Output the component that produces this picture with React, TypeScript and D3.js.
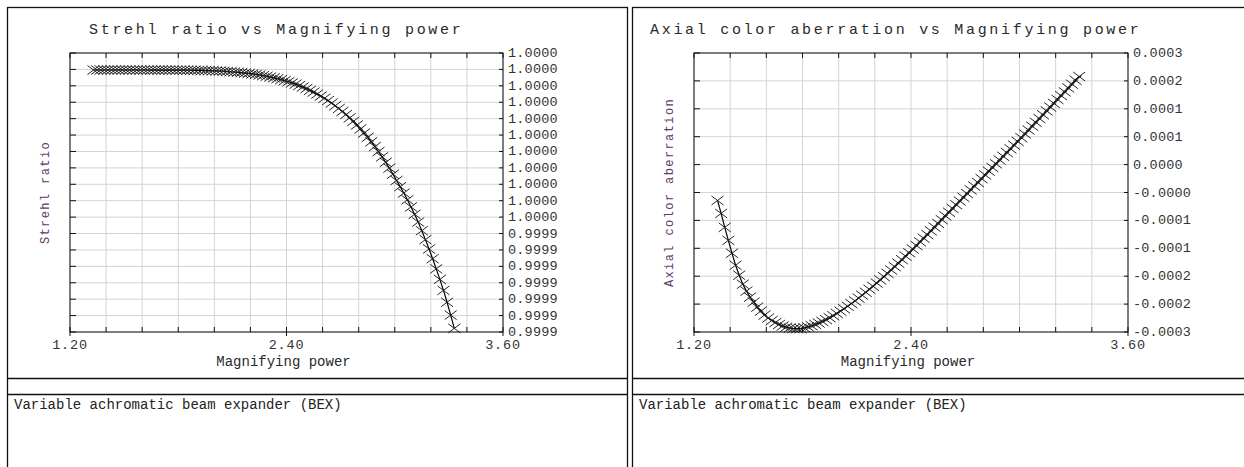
import React from "react";
import * as d3 from "d3";

// magnifying power samples (shared by both curves)
const magnification = [
  1.33, 1.35, 1.37, 1.39, 1.41, 1.43, 1.45, 1.47, 1.49, 1.51,
  1.53, 1.55, 1.57, 1.59, 1.61, 1.63, 1.65, 1.67, 1.69, 1.71,
  1.73, 1.75, 1.77, 1.79, 1.81, 1.83, 1.85, 1.87, 1.89, 1.91,
  1.93, 1.95, 1.97, 1.99, 2.01, 2.03, 2.05, 2.07, 2.09, 2.11,
  2.13, 2.15, 2.17, 2.19, 2.21, 2.23, 2.25, 2.27, 2.29, 2.31,
  2.33, 2.35, 2.37, 2.39, 2.41, 2.43, 2.45, 2.47, 2.49, 2.51,
  2.53, 2.55, 2.57, 2.59, 2.61, 2.63, 2.65, 2.67, 2.69, 2.71,
  2.73, 2.75, 2.77, 2.79, 2.81, 2.83, 2.85, 2.87, 2.89, 2.91,
  2.93, 2.95, 2.97, 2.99, 3.01, 3.03, 3.05, 3.07, 3.09, 3.11,
  3.13, 3.15, 3.17, 3.19, 3.21, 3.23, 3.25, 3.27, 3.29, 3.31,
  3.33,
];

const strehlRatio = [
  0.99999523, 0.99999523, 0.99999524, 0.99999524, 0.99999524, 0.99999524, 0.99999524, 0.99999524, 0.99999524, 0.99999524,
  0.99999524, 0.99999524, 0.99999523, 0.99999523, 0.99999523, 0.99999523, 0.99999522, 0.99999522, 0.99999522, 0.99999522,
  0.99999522, 0.99999521, 0.99999521, 0.9999952, 0.99999519, 0.99999518, 0.99999517, 0.99999516, 0.99999515, 0.99999513,
  0.99999511, 0.99999508, 0.99999505, 0.99999502, 0.99999498, 0.99999493, 0.99999488, 0.99999482, 0.99999475, 0.99999467,
  0.99999459, 0.99999449, 0.99999438, 0.99999427, 0.99999414, 0.99999399, 0.99999383, 0.99999366, 0.99999347, 0.99999327,
  0.99999304, 0.9999928, 0.99999254, 0.99999225, 0.99999194, 0.99999161, 0.99999126, 0.99999087, 0.99999046, 0.99999002,
  0.99998954, 0.99998904, 0.9999885, 0.99998792, 0.99998731, 0.99998666, 0.99998596, 0.99998523, 0.99998445, 0.99998362,
  0.99998275, 0.99998182, 0.99998084, 0.99997981, 0.99997873, 0.99997758, 0.99997637, 0.9999751, 0.99997377, 0.99997237,
  0.9999709, 0.99996935, 0.99996774, 0.99996604, 0.99996426, 0.99996254, 0.99996074, 0.99995885, 0.99995686, 0.99995479,
  0.99995262, 0.9999502, 0.99994769, 0.99994507, 0.99994234, 0.9999395, 0.99993654, 0.99993347, 0.99993014, 0.99992653,
  0.99992281,
];

const axialColor = [
  -0.0000304, -0.0000555, -0.0000825, -0.0001076, -0.0001326, -0.0001558, -0.0001751, -0.0001924, -0.0002059, -0.0002175,
  -0.0002271, -0.0002368, -0.0002445, -0.0002522, -0.000258, -0.0002628, -0.0002667, -0.0002705, -0.0002734, -0.0002757,
  -0.0002773, -0.0002783, -0.0002786, -0.0002783, -0.0002769, -0.000275, -0.0002729, -0.0002703, -0.0002676, -0.0002646,
  -0.0002611, -0.0002574, -0.0002534, -0.0002491, -0.0002447, -0.0002401, -0.0002352, -0.00023, -0.0002248, -0.0002194,
  -0.0002138, -0.0002082, -0.0002023, -0.0001965, -0.0001903, -0.0001841, -0.0001778, -0.0001714, -0.000165, -0.0001585,
  -0.0001517, -0.000145, -0.0001382, -0.0001315, -0.0001245, -0.0001176, -0.0001105, -0.0001035, -0.0000964, -0.0000893,
  -0.0000821, -0.0000748, -0.0000676, -0.0000603, -0.0000532, -0.0000459, -0.0000387, -0.0000316, -0.0000243, -0.0000171,
  -0.0000098, -0.0000027, 0.0000045, 0.0000118, 0.0000189, 0.0000263, 0.0000334, 0.0000405, 0.0000479, 0.000055,
  0.0000623, 0.0000695, 0.0000766, 0.0000839, 0.0000911, 0.0000984, 0.0001059, 0.0001133, 0.0001208, 0.0001281,
  0.0001354, 0.000143, 0.0001503, 0.0001576, 0.0001651, 0.0001725, 0.0001798, 0.0001873, 0.0001946, 0.0002022,
  0.0002095,
];

const xGridTicks = [1.2, 1.4, 1.6, 1.8, 2.0, 2.2, 2.4, 2.6, 2.8, 3.0, 3.2, 3.4, 3.6];
const xLabelTicks = [1.2, 2.4, 3.6];

const strehlTicks = [
  1.0, 0.9999954, 0.9999908, 0.9999862, 0.9999816, 0.999977, 0.9999724, 0.9999678, 0.9999632,
  0.9999586, 0.999954, 0.9999494, 0.9999448, 0.9999402, 0.9999356, 0.999931, 0.9999264, 0.9999218,
];
const axialTicks = [
  0.000255, 0.000201, 0.000147, 0.000093, 0.000039, -0.000015,
  -0.000069, -0.000123, -0.000177, -0.000231, -0.000285,
];

const FONT = "'Liberation Mono', 'Courier New', monospace";
const W = 1244;
const H = 467;

function Chart({ panelX, panelW, plotX0, plotX1, titleX, title, yLabel, values, yTicks, note }) {
  const y0 = 53;
  const y1 = 332;
  const x = d3.scaleLinear().domain([1.2, 3.6]).range([plotX0, plotX1]);
  const y = d3.scaleLinear().domain([yTicks[yTicks.length - 1], yTicks[0]]).range([y1, y0]);
  const line = d3
    .line()
    .x((d, i) => x(magnification[i]))
    .y((d) => y(d));
  const cx = (plotX0 + plotX1) / 2;

  return (
    <g>
      {/* panel frame */}
      <rect x={panelX + 0.5} y={7.5} width={panelW} height={H} fill="#fff" stroke="#111" strokeWidth={1.3} />
      <line x1={panelX} x2={panelX + panelW} y1={378.5} y2={378.5} stroke="#111" strokeWidth={1.3} />
      <line x1={panelX} x2={panelX + panelW} y1={394.5} y2={394.5} stroke="#111" strokeWidth={1.3} />

      <text x={titleX} y={34} fontFamily={FONT} fontSize={15} letterSpacing={2.7} fill="#2a2a2a">
        {title}
      </text>

      {/* grid */}
      {xGridTicks.map((t) => (
        <line key={"gx" + t} x1={x(t)} x2={x(t)} y1={y0} y2={y1} stroke="#d3d3d3" strokeWidth={1} />
      ))}
      {yTicks.map((t, i) => (
        <line key={"gy" + i} x1={plotX0} x2={plotX1} y1={y(t)} y2={y(t)} stroke="#d3d3d3" strokeWidth={1} />
      ))}

      {/* curve */}
      <path d={line(values)} fill="none" stroke="#000" strokeWidth={1.2} />
      {values.map((v, i) => (
        <path
          key={"m" + i}
          transform={`translate(${x(magnification[i])},${y(v)})`}
          d="M-6,-4.5L6,4.5M-6,4.5L6,-4.5"
          stroke="#1a1a1a"
          strokeWidth={0.95}
          fill="none"
        />
      ))}

      {/* frame and ticks */}
      <rect x={plotX0} y={y0} width={plotX1 - plotX0} height={y1 - y0} fill="none" stroke="#111" strokeWidth={1} />
      {xGridTicks.map((t) => (
        <g key={"tx" + t}>
          <line x1={x(t)} x2={x(t)} y1={y0} y2={y0 + 5} stroke="#111" />
          <line x1={x(t)} x2={x(t)} y1={y1} y2={y1 - 5} stroke="#111" />
        </g>
      ))}
      {xLabelTicks.map((t) => (
        <g key={"lx" + t}>
          <line x1={x(t)} x2={x(t)} y1={y1} y2={y1 + 4} stroke="#111" />
          <text x={x(t)} y={349} textAnchor="middle" fontFamily={FONT} fontSize={13.5} letterSpacing={0.8} fill="#333">
            {t.toFixed(2)}
          </text>
        </g>
      ))}
      {yTicks.map((t, i) => (
        <g key={"ty" + i}>
          <line x1={plotX0} x2={plotX0 + 6} y1={y(t)} y2={y(t)} stroke="#111" />
          <line x1={plotX1} x2={plotX1 - 4} y1={y(t)} y2={y(t)} stroke="#111" />
          <text x={plotX1 + 5} y={y(t) + 4} fontFamily={FONT} fontSize={13.5} letterSpacing={0.2} fill="#333">
            {t.toFixed(4)}
          </text>
        </g>
      ))}

      <text x={cx - 3} y={366} textAnchor="middle" fontFamily={FONT} fontSize={14} fill="#2a2a2a">
        Magnifying power
      </text>
      <text
        transform={`translate(${plotX0 - 21},${(y0 + y1) / 2}) rotate(-90)`}
        textAnchor="middle"
        fontFamily={FONT}
        fontSize={12}
        letterSpacing={1.4}
        fill="#5a3a6e"
      >
        {yLabel}
      </text>

      <text x={panelX + 7} y={409} fontFamily={FONT} fontSize={14} fill="#222">
        {note}
      </text>
    </g>
  );
}

export default function App() {
  return (
    <svg
      width={W}
      height={H}
      viewBox={`0 0 ${W} ${H}`}
      style={{ position: "absolute", left: 0, top: 0, background: "#fff" }}
    >
      <rect x={0} y={0} width={W} height={H} fill="#fff" />
      <Chart
        panelX={7}
        panelW={620}
        plotX0={70}
        plotX1={503}
        titleX={89}
        title="Strehl ratio vs Magnifying power"
        yLabel="Strehl ratio"
        values={strehlRatio}
        yTicks={strehlTicks}
        note="Variable achromatic beam expander (BEX)"
      />
      <Chart
        panelX={632}
        panelW={640}
        plotX0={694}
        plotX1={1128}
        titleX={650}
        title="Axial color aberration vs Magnifying power"
        yLabel="Axial color aberration"
        values={axialColor}
        yTicks={axialTicks}
        note="Variable achromatic beam expander (BEX)"
      />
    </svg>
  );
}
